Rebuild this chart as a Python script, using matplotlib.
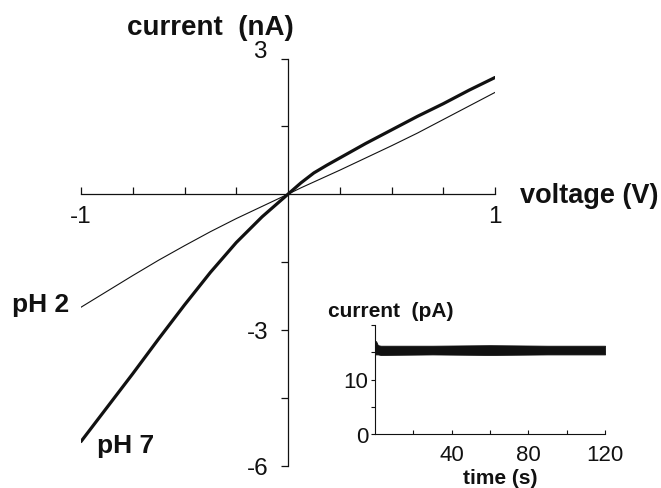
import matplotlib
matplotlib.use("Agg")
import matplotlib.pyplot as plt

plt.rcParams['font.family'] = ['Liberation Sans', 'DejaVu Sans']

# Curvas I-V (tensao em V, corrente em nA)
voltage = [-1, -0.875, -0.75, -0.625, -0.5, -0.375, -0.25, -0.125, 0,
           0.0625, 0.125, 0.1875, 0.25, 0.375, 0.5, 0.625, 0.75, 0.875, 1]
current_ph7 = [-5.47, -4.72, -3.97, -3.20, -2.45, -1.73, -1.07, -0.50, 0,
               0.25, 0.47, 0.64, 0.80, 1.12, 1.42, 1.72, 2.00, 2.30, 2.58]
current_ph2 = [-2.50, -2.15, -1.80, -1.46, -1.14, -0.83, -0.54, -0.27, 0,
               0.14, 0.27, 0.40, 0.53, 0.80, 1.07, 1.35, 1.65, 1.95, 2.25]

# Inset: corrente ao longo do tempo (envelope do ruido, pA)
time_s = [0, 0.6, 1.5, 3, 30, 60, 90, 120]
trace_upper = [17.1, 17.0, 16.3, 16.2, 16.2, 16.3, 16.2, 16.2]
trace_lower = [14.6, 14.6, 14.6, 14.5, 14.6, 14.5, 14.6, 14.6]

# Ticks e rotulos
main_xticks = [-1, -0.75, -0.5, -0.25, 0.25, 0.5, 0.75, 1]
main_xlabels = ['-1', '', '', '', '', '', '', '1']
main_yticks = [3, 1.5, -1.5, -3, -4.5, -6]
main_ylabels = ['', '', '', '-3', '', '-6']
inset_xticks = [20, 40, 60, 80, 100, 120]
inset_xlabels = ['', '40', '', '80', '', '120']
inset_yticks = [0, 5, 10, 15, 20]
inset_ylabels = ['0', '', '10', '', '']

W, H = 661, 489
fig = plt.figure(figsize=(W / 100, H / 100), dpi=100)

def px(x, y):
    # pixel (origem no topo) -> fracao da figura
    return x / W, 1 - y / H

ink = '#111111'

# Grafico principal
ax = fig.add_axes([81 / W, 22.5 / H, 414 / W, 407 / H])
ax.plot(voltage, current_ph2, color=ink, lw=0.8)
ax.plot(voltage, current_ph7, color=ink, lw=2.3, solid_capstyle='round', solid_joinstyle='round')
ax.set_xlim(-1, 1)
ax.set_ylim(-6, 3)
for s in ['top', 'right']:
    ax.spines[s].set_visible(False)
ax.spines['left'].set_position(('data', 0))
ax.spines['bottom'].set_position(('data', 0))
for s in ['left', 'bottom']:
    ax.spines[s].set_linewidth(0.9)
    ax.spines[s].set_color(ink)
ax.set_xticks(main_xticks)
ax.set_xticklabels(main_xlabels)
ax.set_yticks(main_yticks)
ax.set_yticklabels(main_ylabels)
ax.tick_params(axis='x', direction='in', length=5, width=0.9, pad=8, labelsize=17.5, colors=ink)
ax.tick_params(axis='y', direction='out', length=5, width=0.9, pad=9, labelsize=17.5, colors=ink)

# o "3" do topo fica um pouco acima do tick no original
fig.text(*px(267, 58.5), '3', fontsize=17.5, ha='right', va='baseline', color=ink)

fig.text(*px(127, 35), 'current  (nA)', fontsize=20, fontweight='bold', va='baseline', color=ink)
fig.text(*px(520, 203), 'voltage (V)', fontsize=19.5, fontweight='bold', va='baseline', color=ink)
fig.text(*px(12, 312), 'pH 2', fontsize=19, fontweight='bold', va='baseline', color=ink)
fig.text(*px(97, 453), 'pH 7', fontsize=19, fontweight='bold', va='baseline', color=ink)

# Inset
ax_in = fig.add_axes([375 / W, 54 / H, 230 / W, 109 / H])
ax_in.fill_between(time_s, trace_lower, trace_upper, color=ink, lw=0.6)
ax_in.set_xlim(0, 120)
ax_in.set_ylim(0, 20)
for s in ['top', 'right']:
    ax_in.spines[s].set_visible(False)
for s in ['left', 'bottom']:
    ax_in.spines[s].set_linewidth(0.8)
    ax_in.spines[s].set_color(ink)
ax_in.set_xticks(inset_xticks)
ax_in.set_xticklabels(inset_xlabels)
ax_in.set_yticks(inset_yticks)
ax_in.set_yticklabels(inset_ylabels)
ax_in.tick_params(axis='x', direction='in', length=3, width=0.8, pad=7, labelsize=16, colors=ink)
ax_in.tick_params(axis='y', direction='out', length=3, width=0.8, pad=2, labelsize=16, colors=ink)

fig.text(*px(328, 317), 'current  (pA)', fontsize=15, fontweight='bold', va='baseline', color=ink)
fig.text(*px(500, 484), 'time (s)', fontsize=15, fontweight='bold', va='baseline', ha='center', color=ink)

fig.savefig('out.png', dpi=100)
